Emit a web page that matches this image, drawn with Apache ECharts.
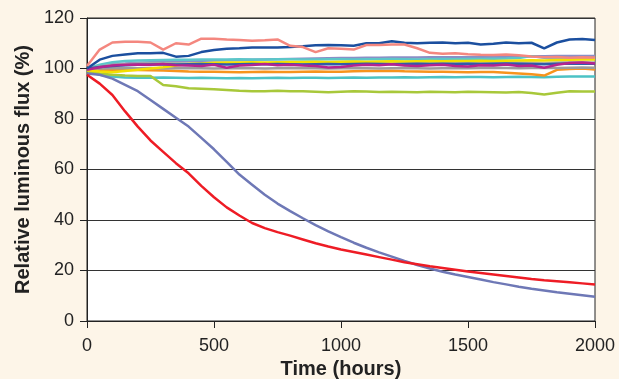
<!DOCTYPE html>
<html>
<head>
<meta charset="utf-8">
<script src="https://cdn.jsdelivr.net/npm/echarts@6/dist/echarts.min.js"></script>
<style>
  html, body { margin: 0; padding: 0; background: #fdf5e8; }
  #chart { width: 619px; height: 379px; }
</style>
</head>
<body>
<div id="chart"></div>
<script>
const hours = [0, 50, 100, 150, 200, 250, 300, 350, 400, 450, 500, 550, 600, 650, 700, 750, 800, 850, 900, 950,
  1000, 1050, 1100, 1150, 1200, 1250, 1300, 1350, 1400, 1450, 1500, 1550, 1600, 1650, 1700, 1750, 1800, 1850, 1900, 1950, 2000];

const salmon = [101, 107.5, 110.3, 110.6, 110.6, 110.3, 107.5, 110, 109.5, 111.8, 111.8, 111.5, 111.3, 111, 111.2, 111.5, 109, 108.5, 106.5, 108,
  107.8, 107.5, 109.3, 109.3, 109.5, 109.5, 108, 106.2, 105.8, 106, 105.6, 105.4, 105.3, 105.5, 105.2, 104.8, 104.5, 104.6, 104.3, 104.5, 104.4];
const darkBlue = [100, 103.5, 105, 105.5, 106, 106, 106.2, 104.7, 105, 106.5, 107.3, 107.8, 108, 108.3, 108.3, 108.3, 108.5, 108.8, 109.2, 109.3,
  109.2, 109, 110, 110, 110.8, 110.2, 110, 110.2, 110.3, 110, 110.2, 109.5, 109.8, 110.3, 110, 110.2, 108, 110.3, 111.5, 111.7, 111.3];
const lavender = [100, 101, 101.8, 102, 102.3, 102.5, 102.7, 102.8, 103, 103.1, 103.2, 103.3, 103.4, 103.5, 103.6, 103.7, 103.8, 103.9, 104, 104.1,
  104.2, 104.2, 104.3, 104.3, 104.4, 104.4, 104.4, 104.5, 104.5, 104.5, 104.5, 104.6, 104.6, 104.7, 104.8, 104.9, 104.9, 105, 105, 105, 105];
const cyan = [100, 101.5, 102.5, 103, 103.2, 103.3, 103.4, 103.5, 103.5, 103.6, 103.6, 103.6, 103.7, 103.6, 103.6, 103.7, 103.7, 103.6, 103.6, 103.7,
  103.7, 103.6, 103.7, 103.7, 103.8, 103.7, 103.6, 103.7, 103.8, 103.7, 103.8, 103.8, 103.9, 104, 104.2, 104.9, 104.3, 103.9, 103.8, 103.8, 103.8];
const yellow = [99.3, 98.8, 98.5, 99, 99.5, 100, 100.5, 101.2, 101.8, 102, 102.3, 102.4, 102.4, 102.5, 102.4, 102.5, 102.6, 102.6, 102.7, 102.6,
  102.7, 102.8, 102.7, 102.8, 102.9, 102.8, 102.9, 103, 102.9, 103, 103, 103.1, 103, 103.1, 103.2, 103.3, 103.2, 103.4, 103.5, 103.6, 103.6];
const lightGrey = [100, 100.8, 101.4, 101.7, 101.9, 102, 102, 102.1, 102, 102.1, 102, 102.1, 102.2, 102.1, 102, 102.1, 102.2, 102.1, 102, 102.1,
  102.2, 102.1, 102.2, 102.1, 102.2, 102.3, 102.2, 102.1, 102.2, 102.3, 102.2, 102.3, 102.2, 102.3, 102.4, 102.3, 102.2, 102.4, 102.5, 102.5, 102.4];
const blue2 = [100, 100.6, 101, 101.3, 101.5, 101.6, 101.7, 101.6, 101.7, 101.8, 101.7, 101.6, 101.7, 101.8, 101.7, 101.8, 101.7, 101.6, 101.7, 101.8,
  101.7, 101.8, 101.9, 101.8, 101.7, 101.8, 101.9, 101.8, 101.9, 101.8, 101.9, 101.8, 101.9, 102, 101.9, 101.8, 101.7, 101.9, 102, 101.9, 101.9];
const magenta = [99.5, 100.5, 101.2, 101.5, 101.6, 101.5, 101.8, 101.3, 101.2, 101, 101.5, 100.3, 101.2, 101.4, 101.8, 101.3, 101.5, 101.2, 101, 100.4,
  100.6, 101.2, 101.5, 101.3, 101.7, 101.2, 101, 101.3, 101.5, 101, 100.8, 101.3, 101.2, 101.6, 101, 101.2, 100.3, 101.5, 102.2, 102.4, 102];
const grey = [100, 100, 100.1, 100.2, 100.1, 100.2, 100, 100.1, 100.2, 100.1, 100, 100.1, 100.2, 100.1, 100, 100.1, 100.2, 100.1, 100.1, 100,
  100.1, 100.2, 100.1, 100, 100.1, 100.2, 100.1, 100, 100.1, 100.2, 100.1, 100.2, 100.3, 100.2, 100.1, 100.2, 100.3, 100.2, 100.3, 100.4, 100.3];
const orange = [99.5, 99.3, 99.4, 99.4, 99.4, 99.3, 99.2, 99, 98.8, 98.7, 98.7, 98.6, 98.5, 98.6, 98.7, 98.6, 98.6, 98.7, 98.8, 98.7,
  98.7, 98.9, 99, 99, 99.1, 98.9, 98.8, 98.7, 98.7, 98.6, 98.5, 98.6, 98.6, 98.3, 98, 97.7, 97.2, 99.5, 99.8, 100, 99.6];
const teal = [99, 97.5, 96.8, 96.4, 96.3, 96.3, 96.4, 96.3, 96.2, 96.3, 96.2, 96.1, 96.2, 96.1, 96.2, 96.3, 96.2, 96.3, 96.3, 96.2,
  96.3, 96.4, 96.3, 96.4, 96.4, 96.5, 96.4, 96.5, 96.6, 96.5, 96.6, 96.6, 96.5, 96.6, 96.7, 96.6, 96.5, 96.7, 96.8, 96.8, 96.8];
const yellowGreen = [99, 98, 97.5, 97.2, 97, 97, 93.5, 93, 92.2, 92, 91.8, 91.5, 91.2, 91, 91, 91.2, 91, 91, 90.8, 90.6,
  90.8, 91, 90.9, 90.7, 90.8, 90.7, 90.6, 90.8, 90.7, 90.6, 90.8, 90.7, 90.6, 90.5, 90.7, 90.3, 89.7, 90.4, 91, 90.9, 90.9];
const periwinkle = [98, 97.5, 96, 93.5, 91, 87.5, 84, 80.5, 77, 72.5, 68, 63, 58, 54, 50, 46.5, 43.5, 40.7, 38, 35.5,
  33.2, 31, 29, 27.2, 25.5, 23.8, 22.2, 20.8, 19.5, 18.4, 17.4, 16.4, 15.4, 14.5, 13.6, 12.8, 12.1, 11.4, 10.8, 10.2, 9.6];
const red = [97.5, 94, 89.5, 83, 77, 71.5, 67, 62.5, 58.5, 53.5, 49, 45, 41.8, 38.8, 36.8, 35.2, 33.8, 32.3, 30.8, 29.5,
  28.3, 27.3, 26.3, 25.3, 24.3, 23.3, 22.5, 21.7, 21, 20.3, 19.6, 19, 18.4, 17.8, 17.2, 16.6, 16.1, 15.7, 15.3, 14.9, 14.5];

// draw order: flat lines first, decaying ones on top
const lines = [
  ['teal', teal, '#4cc2c5'],
  ['yellowGreen', yellowGreen, '#a8c83a'],
  ['orange', orange, '#f7941d'],
  ['grey', grey, '#9c9c9c'],
  ['lavender', lavender, '#8a8fc6'],
  ['cyan', cyan, '#5cc6c9'],
  ['lightGrey', lightGrey, '#b0b0a0'],
  ['yellow', yellow, '#f2e000'],
  ['blue2', blue2, '#2f5ca8'],
  ['magenta', magenta, '#b5248f'],
  ['darkBlue', darkBlue, '#1b4f9f'],
  ['salmon', salmon, '#f4877f'],
  ['periwinkle', periwinkle, '#6e78b6'],
  ['red', red, '#ee1c25']
];

const chart = echarts.init(document.getElementById('chart'));
const font = 'Liberation Sans, Arial, sans-serif';

chart.setOption({
  animation: false,
  backgroundColor: '#fdf5e8',
  grid: {
    left: 87, right: 24, top: 18, bottom: 58,
    containLabel: false, outerBoundsMode: 'none',
    show: true, backgroundColor: '#fff', borderColor: '#222', borderWidth: 1
  },
  xAxis: {
    type: 'value', min: 0, max: 2000, interval: 500,
    name: 'Time (hours)', nameLocation: 'middle', nameGap: 37,
    nameTextStyle: { fontFamily: font, fontSize: 20, fontWeight: 'bold', color: '#222' },
    axisLine: { show: true, lineStyle: { color: '#222', width: 1 } },
    axisTick: { show: true, length: 7, lineStyle: { color: '#222' } },
    axisLabel: { fontFamily: font, fontSize: 18, color: '#222', margin: 16, formatter: (v) => String(v) },
    splitLine: { show: false }
  },
  yAxis: {
    type: 'value', min: 0, max: 120, interval: 20,
    name: 'Relative luminous flux (%)', nameLocation: 'middle', nameGap: 54,
    nameTextStyle: { fontFamily: font, fontSize: 20, fontWeight: 'bold', color: '#222' },
    axisLine: { show: true, lineStyle: { color: '#222', width: 1 } },
    axisTick: { show: true, length: 7, lineStyle: { color: '#222' } },
    axisLabel: { fontFamily: font, fontSize: 18, color: '#222', margin: 13 },
    splitLine: { show: true, lineStyle: { color: '#333', width: 1 } }
  },
  series: lines.map(([name, vals, color]) => ({
    name,
    type: 'line',
    data: hours.map((h, i) => [h, vals[i]]),
    showSymbol: false,
    lineStyle: { color, width: 2.5 },
    itemStyle: { color }
  }))
});
</script>
</body>
</html>
